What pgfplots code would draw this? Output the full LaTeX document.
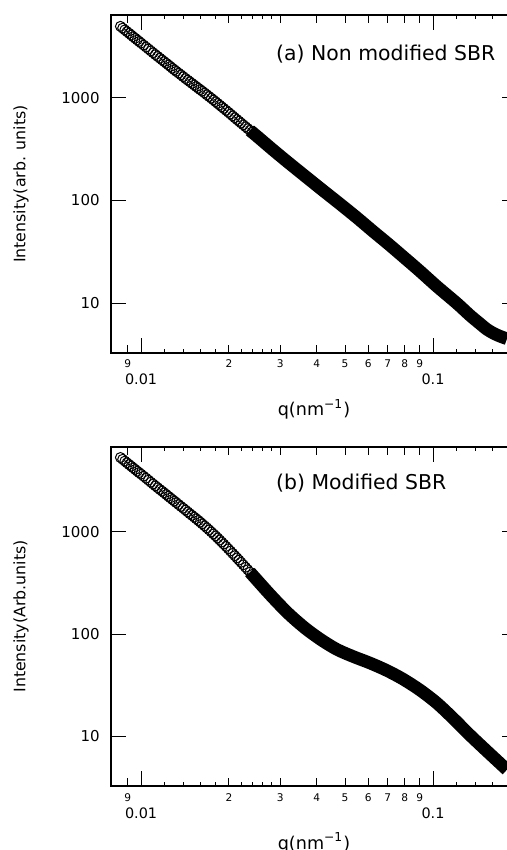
\documentclass[border=0pt]{standalone}
\usepackage{fontspec}
\setmainfont{DejaVu Sans}
\usepackage{pgfplots}
\pgfplotsset{compat=1.18}

\newcommand{\bigtick}[1]{{\fontsize{7.2}{9}\selectfont #1}}
\pgfplotsset{
  sbr/.style={
    scale only axis, width=203pt,
    xmin=0.00789, xmax=0.194,
    axis line style={line width=1pt},
    tick style={black, line width=0.5pt},
    tick align=inside,
    xtick={0.009,0.02,0.03,0.04,0.05,0.06,0.07,0.08,0.09},
    xticklabels={9,2,3,4,5,6,7,8,9},
    major tick length=4pt,
    minor xtick={0.012,0.014,0.016,0.018,0.022,0.024,0.026,0.028,0.12,0.14,0.16,0.18},
    minor tick length=2pt,
    yminorticks=false,
    ytick=\empty,
    extra y ticks={10,100,1000},
    extra y tick labels={10,100,1000},
    extra y tick style={major tick length=7.5pt},
    extra x ticks={0.01,0.1},
    extra x tick labels={\bigtick{0.01},\bigtick{0.1}},
    extra x tick style={major tick length=7.5pt, tick label style={yshift=-8.5pt}},
    xticklabel style={font=\fontsize{5.3}{6}\selectfont, anchor=base, inner sep=0pt, yshift=-7.5pt},
    yticklabel style={font=\fontsize{7.5}{9}\selectfont, anchor=east, inner sep=0pt, xshift=-5.5pt},
    xlabel={q(nm\textsuperscript{−1})},
    xlabel style={at={(axis description cs:0.5,0)}, anchor=base, yshift=-31.5pt,
      font=\fontsize{8.8}{10}\selectfont},
    ylabel style={at={(axis description cs:-0.2217,0.5)}, anchor=center,
      font=\fontsize{7.9}{10}\selectfont},
  },
  band/.style={black, line width=6.3pt, smooth, line join=round, no marks},
  circ/.style={black, only marks, mark=o, mark size=2.5pt, mark options={line width=0.5pt}},
}

\begin{document}
\begin{tikzpicture}
\useasboundingbox (0,0) rectangle (253.5pt,425pt);
\clip (0,0) rectangle (253.5pt,425pt);

% (a) non modified
\begin{loglogaxis}[sbr, at={(55.5pt,248.5pt)}, anchor=south west, height=169pt,
  ymin=3.27, ymax=6400, ylabel={Intensity(arb. units)}]
\addplot[band] table {
0.0236 481
0.0250 420
0.0283 311
0.0320 233
0.0369 168
0.0420 125
0.0480 92.5
0.0550 67.6
0.0625 49.7
0.0700 38.1
0.0791 28.3
0.0900 20.6
0.1030 14.6
0.1205 10.0
0.1339 7.6
0.1430 6.5
0.1531 5.55
0.1620 5.05
0.1700 4.75
0.1792 4.5
};
\addplot[circ] table {
0.0085 4960
0.00865 4766
0.0088 4580
0.00895 4407
0.0091 4240
0.00925 4082
0.0094 3930
0.00955 3793
0.0097 3660
0.00985 3533
0.0100 3410
0.0102 3262
0.0104 3120
0.0106 2987
0.0108 2860
0.0110 2743
0.0112 2630
0.0114 2528
0.0116 2430
0.0118 2338
0.0120 2250
0.0122 2169
0.0124 2090
0.0126 2014
0.0128 1940
0.0130 1874
0.0132 1810
0.01345 1739
0.0137 1670
0.01395 1604
0.0142 1540
0.01445 1484
0.0147 1430
0.01495 1379
0.0152 1330
0.01545 1284
0.0157 1240
0.01595 1199
0.0162 1160
0.0165 1114
0.0168 1070
0.0171 1029
0.0174 990
0.0177 952
0.0180 915
0.0183 881
0.0186 848
0.0189 817
0.0192 787
0.01955 755
0.0199 724
0.02025 694
0.0206 666
0.02095 639
0.0213 614
0.02165 591
0.0220 568
0.0224 545
0.0228 522
0.0232 501
0.0236 481
0.0240 463
0.0244 445
0.0248 428
0.0252 411
0.0256 396
0.0260 381
};
\node[anchor=west, inner sep=0pt, font=\fontsize{10.2}{12}\selectfont]
  at (axis description cs:0.406,0.885) {(a) Non modified SBR};
\end{loglogaxis}

% (b) modified
\begin{loglogaxis}[sbr, at={(55.5pt,32pt)}, anchor=south west, height=169.5pt,
  ymin=3.24, ymax=6810, ylabel={Intensity(Arb.units)}]
\addplot[band] table {
0.0236 404
0.02466 351
0.02787 238
0.03187 160
0.03643 114.5
0.0413 88.1
0.0468 70.8
0.05334 60.1
0.0608 52.0
0.06927 44.1
0.0789 36.2
0.09016 28.3
0.1030 21.1
0.1174 14.85
0.1339 10.2
0.1525 7.18
0.1737 5.08
0.1792 4.68
};
\addplot[circ] table {
0.0085 5370
0.00865 5156
0.0088 4950
0.00895 4761
0.0091 4580
0.00925 4412
0.0094 4250
0.00955 4097
0.0097 3950
0.00985 3818
0.0100 3690
0.0102 3526
0.0104 3370
0.0106 3222
0.0108 3080
0.0110 2952
0.0112 2830
0.0114 2718
0.0116 2610
0.0118 2513
0.0120 2420
0.0122 2328
0.0124 2240
0.0126 2159
0.0128 2080
0.0130 2009
0.0132 1940
0.01345 1858
0.0137 1780
0.01395 1709
0.0142 1640
0.01445 1574
0.0147 1510
0.01495 1454
0.0152 1400
0.01545 1348
0.0157 1297
0.01595 1249
0.0162 1202
0.0165 1149
0.0168 1098
0.0171 1049
0.0174 1002
0.0177 957
0.0180 915
0.0183 874
0.0186 834
0.0189 797
0.0192 761
0.01955 722
0.0199 685
0.02025 650
0.0206 617
0.02095 586
0.0213 557
0.02165 530
0.0220 504
0.0224 477
0.0228 451
0.0232 427
0.0236 404
0.0240 383
0.0244 364
0.0248 346
0.0252 329
0.0256 313
0.0260 298
};
\node[anchor=west, inner sep=0pt, font=\fontsize{10.2}{12}\selectfont]
  at (axis description cs:0.406,0.894) {(b) Modified SBR};
\end{loglogaxis}
\end{tikzpicture}
\end{document}
